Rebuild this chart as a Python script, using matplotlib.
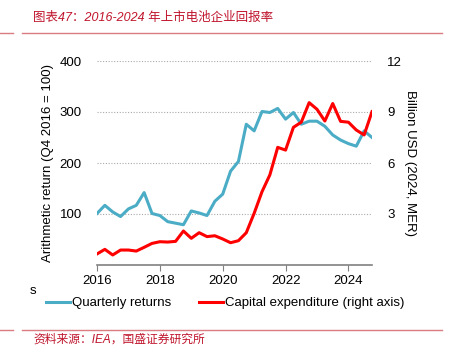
import matplotlib
matplotlib.use('Agg')
import matplotlib.pyplot as plt
import numpy as np
from matplotlib.lines import Line2D

plt.rcParams['font.family'] = ['Liberation Sans', 'Noto Sans CJK SC', 'DejaVu Sans']

# Quarterly data, Q1 2016 .. Q4 2024
years = 2016 + np.arange(36) / 4
returns = [101, 117, 104, 95, 110, 117, 142, 101, 97, 85, 82, 79,
           106, 102, 97, 125, 139, 184, 203, 276, 263, 301, 299, 307,
           286, 299, 276, 282, 282, 272, 255, 245, 238, 233, 263, 250]
capex = [0.65, 0.92, 0.59, 0.88, 0.88, 0.82, 1.04, 1.27, 1.37, 1.35, 1.39, 2.0,
         1.57, 1.9, 1.67, 1.72, 1.53, 1.31, 1.43, 1.9, 3.04, 4.31, 5.3, 6.92,
         6.76, 8.1, 8.4, 9.55, 9.16, 8.47, 9.5, 8.45, 8.4, 7.94, 7.65, 9.02]
xticks = [2016, 2018, 2020, 2022, 2024]
left_ticks = [100, 200, 300, 400]
right_ticks = [3, 6, 9, 12]

blue = '#4BACC6'
red = '#FF0000'
title_red = '#C0142C'
rule_red = '#DA7C82'

fig = plt.figure(figsize=(4.6, 3.55), dpi=100)
ax = fig.add_axes([97 / 460, 1 - 265 / 355, 275 / 460, 204 / 355])
ax2 = ax.twinx()

ax.plot(years, returns, color=blue, linewidth=2.2, zorder=3)
ax2.plot(years, capex, color=red, linewidth=2.2, zorder=3)

ax.set_xlim(2016, 2024.75)
ax.set_ylim(0, 400)
ax2.set_ylim(0, 12)
ax.set_xticks(xticks)
ax.set_yticks(left_ticks)
ax2.set_yticks(right_ticks)

for a in (ax, ax2):
    for s in ('top', 'left', 'right', 'bottom'):
        a.spines[s].set_visible(False)
ax.spines['bottom'].set_visible(True)
ax.spines['bottom'].set_color('#808080')
ax.spines['bottom'].set_linewidth(1.2)

ax.tick_params(axis='x', length=4, color='#808080', labelsize=9.5, pad=3)
ax.tick_params(axis='y', length=0, labelsize=9.5, pad=11)
ax2.tick_params(axis='y', length=0, labelsize=9.5, pad=11)
ax.grid(axis='y', linestyle=(0, (1, 1.5)), color='#AAAAAA', linewidth=0.8)
ax.set_axisbelow(True)

ax.set_ylabel('Arithmetic return (Q4 2016 = 100)', fontsize=9.5, labelpad=4)
ax2.set_ylabel('Billion USD (2024, MER)', fontsize=9.5, rotation=-90, labelpad=10)

handles = [Line2D([], [], color=blue, linewidth=2.2),
           Line2D([], [], color=red, linewidth=2.2)]
fig.legend(handles, ['Quarterly returns', 'Capital expenditure (right axis)'],
           loc='center', bbox_to_anchor=(225 / 460, 1 - 303 / 355), ncol=2,
           frameon=False, fontsize=9.5, handlelength=1.8, handletextpad=0.15,
           columnspacing=2.1)

fig.text(30 / 460, 1 - 291 / 355, 's', fontsize=9.5, va='center')

# header and footer
fig.text(33 / 460, 1 - 18 / 355, '图表47：2016-2024 年上市电池企业回报率',
         color=title_red, fontsize=9, style='italic', va='center')
fig.text(33 / 460, 1 - 340 / 355, '资料来源：IEA，国盛证券研究所',
         color=title_red, fontsize=8.5, style='italic', va='center')
for yy in (32.5, 330):
    fig.add_artist(Line2D([0, 13 / 460], [1 - yy / 355] * 2, color=rule_red, linewidth=1))
    fig.add_artist(Line2D([22 / 460, 442 / 460], [1 - yy / 355] * 2, color=rule_red, linewidth=1))

fig.savefig('out.png', dpi=100)
